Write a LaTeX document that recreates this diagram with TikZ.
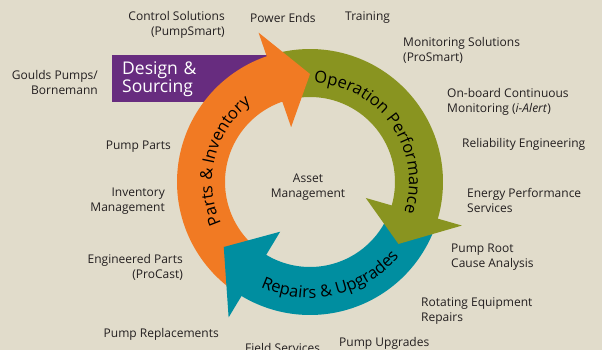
\documentclass[tikz,border=0pt]{standalone}
\usepackage{fontspec}
\setmainfont{Open Sans}
\usetikzlibrary{decorations.text}
\definecolor{bgc}{RGB}{225,220,203}
\definecolor{dpurple}{RGB}{103,44,127}
\definecolor{dorange}{RGB}{241,122,35}
\definecolor{dolive}{RGB}{137,148,32}
\definecolor{dteal}{RGB}{0,142,160}
\definecolor{txt}{RGB}{35,31,32}
\newcommand{\ringshaft}[3]{\fill[#1] plot[domain=#2:#3,samples=60] ({133*cos(\x)},{133*sin(\x)}) -- plot[domain=#3:#2,samples=60] ({85*cos(\x)},{85*sin(\x)}) -- cycle;}
\newcommand{\ringhead}[3]{\fill[#1] (#2:158) -- (#3:108) -- (#2:58) -- cycle;}
\newcommand{\ringtext}[4]{{\fontsize{16.5}{16.5}\selectfont\color{white}%
  \path[decorate,decoration={text along path,text align=center,text={#4}}] plot[domain=#2:#3,samples=50] ({#1*cos(\x)},{#1*sin(\x)});}}
\begin{document}
\begin{tikzpicture}[x=1pt,y=-1pt,
  lbl/.style={font=\fontsize{12}{15}\selectfont,text=txt,inner sep=0pt},
  lblr/.style={lbl,align=right,anchor=east},
  lbll/.style={lbl,align=left,anchor=west}]
\fill[bgc] (0,0) rectangle (602,350);
\useasboundingbox (0,0) rectangle (602,350);
% purple box
\node (design) [fill=dpurple,anchor=north west,minimum width=173pt,minimum height=47pt,
  text width=153pt,inner xsep=10pt,inner ysep=0pt,align=left,text=white,
  font=\fontsize{17.5}{18}\selectfont] at (112,55) {Design \&\\Sourcing};
% ring arrows
\begin{scope}[shift={(310,182)}]
  \ringshaft{dorange}{126}{252}
  \ringshaft{dolive}{255}{377}
  \ringshaft{dteal}{20}{122}
  \ringhead{dorange}{251}{270}
  \ringhead{dolive}{376}{395}
  \ringhead{dteal}{121}{143}
  \ringtext{98}{140}{248}{Parts {\&} Inventory}
  \ringtext{99}{270}{380}{Operation Performance}
  \ringtext{116}{122}{33}{Repairs {\&} Upgrades}
\end{scope}
% labels
\node (asset) [lbl,align=center] at (308,187.5) {Asset\\Management};
\node (ctrl) [lblr] at (225,25) {Control Solutions\\(PumpSmart)};
\node (power) [lbll] at (250,18) {Power Ends};
\node (train) [lbll] at (345,18) {Training};
\node (monsol) [lbll] at (403,50) {Monitoring Solutions\\(ProSmart)};
\node (onboard) [lbll] at (447,101.5) {On-board Continuous\\Monitoring (\textit{i-Alert})};
\node (reliab) [lbll] at (462,144) {Reliability Engineering};
\node (energy) [lbll] at (467,200.5) {Energy Performance\\Services};
\node (root) [lbll] at (451,257) {Pump Root\\Cause Analysis};
\node (rotat) [lbll] at (421,311.5) {Rotating Equipment\\Repairs};
\node (upgr) [lbll] at (339,343) {Pump Upgrades};
\node (field) [lbl,anchor=base west] at (245,352) {Field Services};
\node (repl) [lblr] at (219,334) {Pump Replacements};
\node (eng) [lblr] at (183,267.5) {Engineered Parts\\(ProCast)};
\node (inv) [lblr] at (165,201) {Inventory\\Management};
\node (parts) [lblr] at (171,147) {Pump Parts};
\node (goulds) [lblr] at (98,83) {Goulds Pumps/\\Bornemann};
\end{tikzpicture}
\end{document}
